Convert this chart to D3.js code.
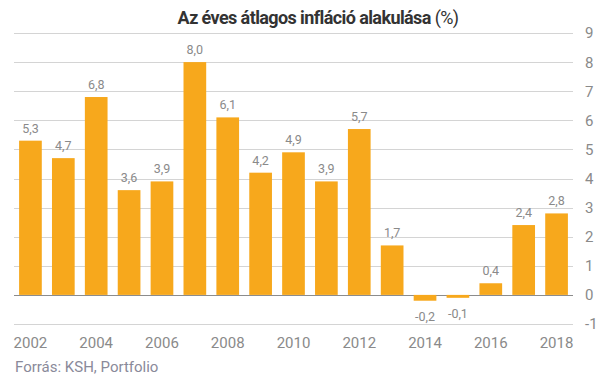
<!DOCTYPE html>
<html>
<head>
<meta charset="utf-8">
<script src="https://cdn.jsdelivr.net/npm/d3@7"></script>
<style>
  body { margin: 0; background: #fff; }
  svg text { font-family: Roboto, "Noto Sans", sans-serif; }
</style>
</head>
<body>
<div id="chart"></div>
<script>
// Data
const years = [2002, 2003, 2004, 2005, 2006, 2007, 2008, 2009, 2010, 2011, 2012, 2013, 2014, 2015, 2016, 2017, 2018];
const inflation = [5.3, 4.7, 6.8, 3.6, 3.9, 8.0, 6.1, 4.2, 4.9, 3.9, 5.7, 1.7, -0.2, -0.1, 0.4, 2.4, 2.8];
const yTicks = [-1, 0, 1, 2, 3, 4, 5, 6, 7, 8, 9];
const xTickYears = [2002, 2004, 2006, 2008, 2010, 2012, 2014, 2016, 2018];

const data = years.map((y, i) => ({ year: y, value: inflation[i] }));

let width = 605, height = 378;

let svg = d3.select("#chart")
    .append("svg")
    .attr("width", width)
    .attr("height", height);

// Scales
let xScale = d3.scaleBand()
    .domain(years)
    .range([14, 573])
    .paddingInner(0.31)
    .paddingOuter(0.155);

let yScale = d3.scaleLinear()
    .domain([-1, 9])
    .range([324, 33]);

// Gridlines
svg.append("g")
    .selectAll("line")
    .data(yTicks)
    .enter().append("line")
    .attr("x1", 14)
    .attr("x2", 573)
    .attr("y1", d => Math.round(yScale(d)) + 0.5)
    .attr("y2", d => Math.round(yScale(d)) + 0.5)
    .attr("stroke", d => d === 0 ? "#8c8c8c" : "#d4d4d4")
    .attr("stroke-width", 1);

// Y labels on right
svg.append("g")
    .selectAll("text")
    .data(yTicks)
    .enter().append("text")
    .attr("x", 585)
    .attr("y", d => yScale(d))
    .attr("dy", "0.36em")
    .attr("fill", "#8a8a8a")
    .style("font-size", "15px")
    .text(d => d);

// Bars
svg.selectAll(".bar")
    .data(data)
    .enter().append("rect")
    .attr("class", "bar")
    .attr("x", d => xScale(d.year))
    .attr("width", xScale.bandwidth())
    .attr("y", d => yScale(Math.max(0, d.value)))
    .attr("height", d => Math.abs(yScale(d.value) - yScale(0)))
    .attr("fill", "#f7a81c");

// Value labels
svg.selectAll(".val")
    .data(data)
    .enter().append("text")
    .attr("class", "val")
    .attr("x", d => xScale(d.year) + xScale.bandwidth() / 2)
    .attr("y", d => d.value >= 0 ? yScale(d.value) - 8 : yScale(d.value) + 20)
    .attr("text-anchor", "middle")
    .attr("fill", "#8a8a8a")
    .style("font-size", "12.5px")
    .text(d => d3.format(".1f")(d.value).replace(".", ",").replace("−", "-"));

// X labels
svg.append("g")
    .selectAll("text")
    .data(xTickYears)
    .enter().append("text")
    .attr("x", d => xScale(d) + xScale.bandwidth() / 2)
    .attr("y", 348)
    .attr("text-anchor", "middle")
    .attr("fill", "#8a8a8a")
    .style("font-size", "15px")
    .text(d => d);

// Title
let title = svg.append("text")
    .attr("x", 318)
    .attr("y", 24)
    .attr("text-anchor", "middle")
    .attr("fill", "#333")
    .style("font-size", "18px")
    .style("letter-spacing", "-0.6px");
title.append("tspan").style("font-weight", "bold").text("Az éves átlagos infláció alakulása ");
title.append("tspan").text("(%)");

// Source
svg.append("text")
    .attr("x", 15)
    .attr("y", 372)
    .attr("fill", "#8a8a9a")
    .style("font-size", "15px")
    .text("Forrás: KSH, Portfolio");
</script>
</body>
</html>
